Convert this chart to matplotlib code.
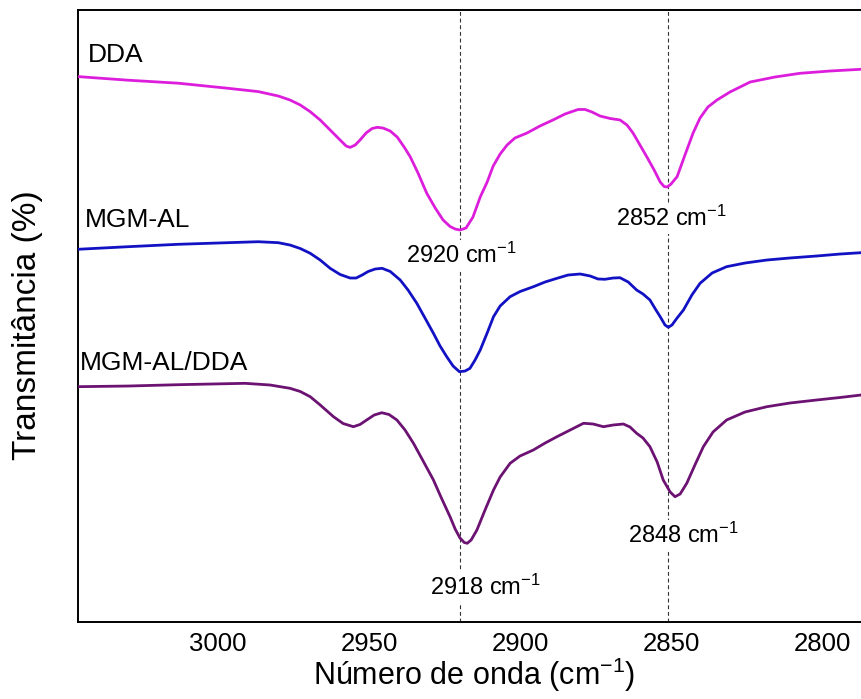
import matplotlib
matplotlib.use("Agg")
import matplotlib.pyplot as plt

plt.rcParams['font.family'] = ['Liberation Sans', 'DejaVu Sans']
plt.rcParams['mathtext.fontset'] = 'custom'
plt.rcParams['mathtext.rm'] = 'Liberation Sans'
plt.rcParams['mathtext.it'] = 'Liberation Sans:italic'
plt.rcParams['mathtext.bf'] = 'Liberation Sans:bold'

# ---- data (wavenumber cm-1, transmittance in arbitrary offset units) ----
dda_wn = [3046.4, 3029.8, 3013.2, 2996.7, 2986.7, 2980.1, 2976.2, 2972.8, 2969.5, 2966.2,
          2962.9, 2959.6, 2957.6, 2956.3, 2954.6, 2953.0, 2951.0, 2949.0, 2947.3, 2945.4,
          2943.0, 2940.7, 2938.4, 2936.4, 2933.8, 2930.9, 2928.1, 2925.5, 2923.2, 2921.5,
          2919.9, 2917.9, 2915.6, 2913.2, 2910.9, 2908.9, 2906.6, 2904.3, 2901.7, 2897.7,
          2893.4, 2889.1, 2885.1, 2880.8, 2878.5, 2876.2, 2873.5, 2870.2, 2866.9, 2864.6,
          2862.6, 2860.3, 2858.0, 2855.6, 2853.6, 2852.3, 2851.3, 2850.0, 2848.0, 2845.4,
          2842.7, 2840.4, 2837.8, 2834.8, 2830.5, 2823.8, 2815.6, 2807.3, 2797.4, 2787.1]
dda_t = [90.9, 90.3, 89.8, 88.95, 88.4, 87.67, 87.0, 86.17, 85.05, 83.67,
         82.0, 80.33, 79.33, 79.1, 79.5, 80.33, 81.5, 82.25, 82.45, 82.33,
         81.83, 80.83, 79.17, 77.55, 74.83, 71.45, 69.0, 67.0, 65.92, 65.5,
         65.33, 65.67, 67.5, 70.83, 73.33, 76.0, 78.0, 79.5, 80.67, 81.5,
         82.67, 83.67, 84.67, 85.42, 85.42, 85.0, 84.33, 83.92, 83.67, 82.83,
         81.5, 79.5, 77.5, 75.33, 73.33, 72.58, 72.5, 73.0, 74.22, 77.83,
         81.5, 84.0, 85.83, 87.0, 88.33, 90.0, 90.83, 91.45, 91.83, 92.12]

mgm_wn = [3046.4, 3029.8, 3013.2, 2996.7, 2986.7, 2980.1, 2976.2, 2972.8, 2969.5, 2966.2,
          2962.9, 2959.6, 2956.3, 2954.3, 2952.3, 2950.3, 2948.0, 2945.7, 2943.0, 2939.7,
          2937.1, 2934.2, 2931.5, 2928.7, 2926.5, 2924.3, 2922.2, 2920.1, 2918.2, 2916.6,
          2914.9, 2913.2, 2910.9, 2908.8, 2906.6, 2903.3, 2900.0, 2895.6, 2891.7, 2887.8,
          2884.1, 2880.1, 2876.8, 2874.2, 2871.9, 2869.2, 2866.9, 2864.2, 2861.4, 2859.3,
          2857.0, 2855.0, 2853.6, 2852.0, 2850.9, 2849.7, 2848.0, 2845.9, 2843.1, 2840.4,
          2836.4, 2831.6, 2825.5, 2818.3, 2810.6, 2801.8, 2794.0, 2787.1]
mgm_t = [62.12, 62.55, 62.95, 63.22, 63.38, 63.22, 62.83, 62.25, 61.45, 60.33,
         58.95, 57.92, 57.33, 57.33, 57.83, 58.42, 58.83, 58.95, 58.42, 57.0,
         55.33, 53.12, 50.67, 48.12, 46.0, 44.22, 42.67, 41.72, 41.83, 42.28,
         43.67, 45.33, 48.17, 50.88, 52.67, 54.22, 55.08, 55.88, 56.67, 57.28,
         57.83, 58.0, 57.67, 57.17, 57.12, 57.33, 57.38, 56.67, 55.33, 54.67,
         53.67, 52.0, 50.88, 49.5, 49.12, 49.5, 50.67, 52.0, 54.5, 56.45,
         58.17, 59.22, 59.83, 60.33, 60.67, 61.0, 61.33, 61.55]

mix_wn = [3046.4, 3029.8, 3013.2, 2991.1, 2982.8, 2976.2, 2972.8, 2969.5, 2966.2, 2961.8,
          2958.6, 2955.2, 2953.0, 2950.8, 2948.3, 2945.8, 2943.4, 2940.8, 2938.1, 2935.3,
          2932.1, 2928.7, 2926.2, 2923.2, 2921.5, 2919.9, 2918.5, 2917.5, 2916.2, 2914.3,
          2911.6, 2908.8, 2906.6, 2903.3, 2900.0, 2895.6, 2891.7, 2887.8, 2883.4, 2879.0,
          2875.8, 2872.4, 2869.2, 2865.8, 2863.6, 2861.4, 2859.3, 2857.0, 2854.6, 2852.6,
          2850.3, 2848.7, 2847.0, 2844.8, 2842.1, 2839.3, 2836.1, 2831.6, 2825.5, 2818.3,
          2810.6, 2801.8, 2794.0, 2787.1]
mix_t = [39.22, 39.33, 39.55, 39.78, 39.5, 38.95, 38.42, 37.55, 36.17, 34.22,
         33.08, 32.55, 32.92, 33.67, 34.5, 34.88, 34.58, 33.67, 32.0, 29.78,
         26.83, 23.67, 20.83, 17.55, 15.5, 14.0, 13.25, 13.12, 13.67, 15.33,
         18.67, 22.0, 24.17, 26.45, 27.67, 28.67, 29.83, 30.88, 32.0, 33.12,
         33.0, 32.55, 32.83, 33.0, 32.5, 31.45, 30.67, 29.22, 26.67, 23.67,
         21.67, 20.88, 21.33, 23.12, 26.17, 29.22, 31.67, 33.67, 35.0, 35.88,
         36.5, 37.0, 37.42, 37.83]

series_names = ['DDA', 'MGM-AL', 'MGM-AL/DDA']
series_colors = ['#DC1EDC', '#1212C4', '#6C1272']

ref_lines = [2920, 2851]
peak_labels = ['2920', '2852', '2848', '2918']
peak_pos = [(2919.5, 59.8), (2849.8, 66.0), (2846.0, 13.2), (2911.6, 4.5)]

xticks = [3000, 2950, 2900, 2850, 2800]

# ---- figure ----
fig = plt.figure(figsize=(8.61, 6.99), dpi=100)
ax = fig.add_axes([78/861, 77/699, 783/861, 612/699])

for xv in ref_lines:
    ax.axvline(xv, color='#333333', lw=0.8, ls=(0, (3.5, 2.5)), zorder=1)

for wn, t, c in zip([dda_wn, mgm_wn, mix_wn], [dda_t, mgm_t, mix_t], series_colors):
    ax.plot(wn, t, color=c, lw=2.0, zorder=3, solid_capstyle='round',
            solid_joinstyle='round')

name_pos = [(3043.0, 93.4), (3044.0, 65.8), (3045.7, 42.0)]
for name, (x, y) in zip(series_names, name_pos):
    ax.text(x, y, name, fontsize=19, color='black', ha='left', va='baseline', zorder=4)

for lab, (x, y) in zip(peak_labels, peak_pos):
    ax.text(x, y, lab + r' cm$^{-1}$', fontsize=17, ha='center', va='baseline',
            zorder=2, bbox=dict(facecolor='white', edgecolor='none', pad=2))

ax.set_xlim(3046.4, 2787.1)
ax.set_ylim(0, 102)
ax.set_xticks(xticks)
ax.set_xticklabels([str(v) for v in xticks])
ax.set_yticks([])
ax.tick_params(axis='x', length=0, pad=7, labelsize=18.5)
for s in ['left', 'bottom', 'top']:
    ax.spines[s].set_linewidth(1.4)
ax.spines['right'].set_visible(False)

fig.text(474/861, 1 - 675/699, r'Número de onda (cm$^{-1}$)', fontsize=22,
         ha='center', va='center')
fig.text(28/861, 1 - 325/699, 'Transmitância (%)', fontsize=24, rotation=90,
         ha='center', va='center')

fig.savefig('out.png', dpi=100)
